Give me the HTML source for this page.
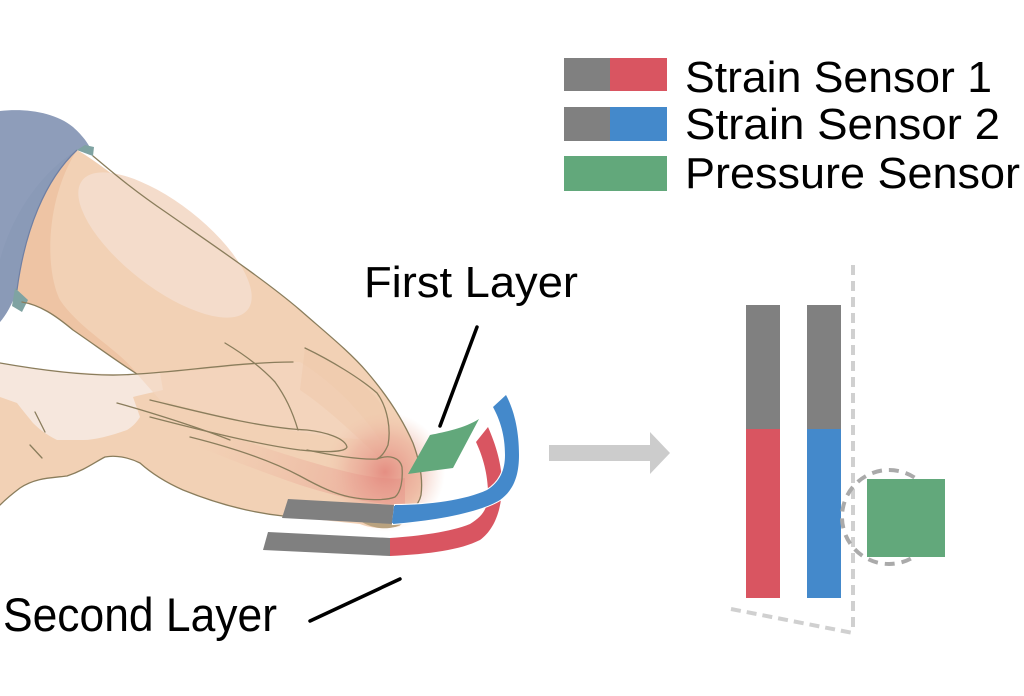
<!DOCTYPE html>
<html><head><meta charset="utf-8"><style>
html,body{margin:0;padding:0;background:#fff;}
svg{display:block;}
text{font-family:"Liberation Sans",sans-serif;fill:#000;}
</style></head><body>
<svg width="1024" height="696" viewBox="0 0 1024 696" xmlns="http://www.w3.org/2000/svg">
<defs>
<radialGradient id="rt" cx="385" cy="472" r="60" gradientUnits="userSpaceOnUse">
<stop offset="0" stop-color="#e3877d" stop-opacity="0.9"/>
<stop offset="0.6" stop-color="#eaa595" stop-opacity="0.5"/>
<stop offset="1" stop-color="#f0c0aa" stop-opacity="0"/>
</radialGradient>
<linearGradient id="fg" x1="200" y1="430" x2="390" y2="490" gradientUnits="userSpaceOnUse">
<stop offset="0" stop-color="#eeb9a2" stop-opacity="0"/>
<stop offset="1" stop-color="#e79d8f" stop-opacity="0.7"/>
</linearGradient>
</defs>

<!-- hand silhouette -->
<path d="M77,150 C95,160 130,188 167,213 C210,243 265,280 300,310 C325,332 350,352 367,372 C385,393 402,418 413,443 C420,462 423,480 421,495 C419,505 412,510 405,513 L400,526 C385,530 370,528 360,524 L283,516 C255,513 220,505 183,490 C165,482 150,472 140,463 C128,457 115,455 105,457 C95,462 85,470 67,476 C50,478 35,478 20,488 C12,494 5,500 0,505 L0,363 C40,370 95,378 137,374 C115,360 95,345 73,330 C55,315 35,300 15,302 C14,260 25,200 77,150 Z" fill="#f2d1b5"/>
<!-- darker band upper arm -->
<path d="M77,150 C40,185 20,240 15,302 C35,300 55,315 73,330 C95,345 115,360 137,374 C120,350 80,330 60,300 C45,270 45,200 77,150 Z" fill="#eec4a4"/>
<!-- highlight -->
<ellipse cx="165" cy="245" rx="105" ry="42" transform="rotate(38 165 245)" fill="#f4dccb"/>
<!-- whitish patch lower left -->
<path d="M0,363 C50,371 110,377 160,373 L163,390 C150,393 140,395 133,397 L140,417 C135,425 130,428 127,430 C110,436 95,440 83,440 L57,440 C45,434 38,428 33,423 C25,413 20,407 17,403 L0,397 Z" fill="#f6e7dd"/>
<!-- forearm shading -->
<path d="M137,374 C200,372 260,362 300,362 C330,380 360,410 380,440 C330,440 250,425 160,400 Z" fill="#f3d6bf" opacity="0.7"/>
<!-- knuckle warm tone -->
<path d="M305,348 C340,365 370,385 385,410 C392,430 390,450 380,458 C360,440 330,410 300,390 Z" fill="#efc3a2" opacity="0.35"/>
<!-- pink finger band -->
<path d="M170,415 C240,440 300,460 340,470 C370,478 395,480 405,478 L405,505 C380,505 340,498 300,485 C250,468 200,448 160,430 Z" fill="url(#fg)"/>
<circle cx="385" cy="472" r="60" fill="url(#rt)"/>
<!-- dark bump under strip -->
<path d="M362,522 C375,530 392,530 402,524 L400,518 L362,518 Z" fill="#b9a27f"/>

<!-- sleeve -->
<path d="M0,111 C25,108 55,112 73,127 C83,136 91,146 93,156 L77,150 C45,180 25,230 17,290 C12,305 6,315 0,322 Z" fill="#8e9dba"/>
<path d="M77,150 C45,180 25,230 17,290 C12,305 6,315 0,322 L0,260 C8,230 30,180 77,150 Z" fill="#8798b5" opacity="0.6"/>
<path d="M77,150 L93,156 L94,147 L85,145 Z" fill="#7fa3a2"/>
<path d="M15,288 L28,300 L22,312 L12,306 Z" fill="#7fa3a2"/>
<path d="M77,150 C45,180 25,230 17,290" fill="none" stroke="#6f7fa3" stroke-width="1.2"/>

<!-- outlines -->
<g fill="none" stroke="#8a7d5c" stroke-width="1.3" stroke-linecap="round" stroke-linejoin="round">
<path d="M93,156 C110,170 130,188 167,213 C210,243 265,280 300,310 C325,332 350,352 367,372 C385,393 402,418 413,443 C420,462 423,480 421,495 C419,505 412,510 405,513"/>
<path d="M283,516 C255,513 220,505 183,490 C165,482 150,472 140,463 C128,457 115,455 105,457 C95,462 85,470 67,476 C50,478 35,478 20,488 C12,494 5,500 0,505"/>
<path d="M0,363 C40,370 95,378 137,374 C180,372 240,362 293,362"/>
<path d="M22,302 C40,305 55,315 73,330 C95,345 115,360 137,374"/>
<path d="M225,343 C245,355 262,368 275,382 C285,396 292,410 298,430"/>
<path d="M150,400 C200,412 260,428 307,430 C325,432 345,438 347,447 C345,453 320,452 300,450 C260,445 200,430 150,417"/>
<path d="M305,348 C330,360 360,378 377,393 C388,408 391,430 388,445 C385,452 381,457 377,459 C360,460 330,455 307,450"/>
<path d="M377,459 C390,454 400,458 402,467 C403,480 401,492 395,497 C385,501 365,500 350,497 C335,494 320,487 300,476 C270,460 230,447 190,437"/>
<path d="M117,403 C150,412 200,428 230,440"/>
<path d="M35,412 L45,432"/>
<path d="M30,445 L42,458"/>
</g>

<!-- strips: red (lower) -->
<path d="M268,532 L390,538 L390,556 L263,550 Z" fill="#808080"/>
<path d="M390,538 C420,536 450,532 470,524 C485,515 489,505 488,490 C487,470 482,455 476,442 L488,427 C496,445 502,465 502,485 C502,510 494,530 480,540 C460,550 430,554 390,556 Z" fill="#d95561"/>
<!-- blue (upper) -->
<path d="M288,499 L395,505 L393,524 L282,518 Z" fill="#808080"/>
<path d="M395,505 C430,505 465,500 487,490 C500,482 505,470 505,455 C505,435 500,420 493,407 L506,395 C514,410 519,430 519,455 C519,475 514,490 500,500 C480,512 440,520 393,524 Z" fill="#4489cb" stroke="#fff" stroke-width="2" paint-order="stroke"/>
<path d="M395,506 L393,523" stroke="#4489cb" stroke-width="2"/>
<!-- green pad -->
<path d="M430,435 C445,432 465,428 479,419 L453,468 C438,470 422,472 408,474 Z" fill="#62a87b"/>

<!-- leader lines -->
<line x1="477" y1="327" x2="440" y2="426" stroke="#000" stroke-width="3.5" stroke-linecap="round"/>
<line x1="310" y1="621" x2="400" y2="579" stroke="#000" stroke-width="3.5" stroke-linecap="round"/>

<!-- labels -->
<text x="364" y="297" font-size="44" textLength="214" lengthAdjust="spacingAndGlyphs">First Layer</text>
<text x="3" y="631" font-size="47" textLength="274" lengthAdjust="spacingAndGlyphs">Second Layer</text>

<!-- gray arrow -->
<polygon points="549,445 650,445 650,432 670,453 650,474 650,461 549,461" fill="#cccccc"/>

<!-- right panel -->
<rect x="746" y="305" width="34" height="124" fill="#808080"/>
<rect x="746" y="429" width="34" height="169" fill="#d95561"/>
<rect x="807" y="305" width="34" height="124" fill="#808080"/>
<rect x="807" y="429" width="34" height="169" fill="#4489cb"/>
<line x1="853" y1="265" x2="853" y2="633" stroke="#d0d0d0" stroke-width="4" stroke-dasharray="10 6"/>
<line x1="731" y1="609" x2="853" y2="633" stroke="#d0d0d0" stroke-width="4" stroke-dasharray="10 6"/>
<circle cx="889" cy="517" r="47" fill="none" stroke="#aaaaaa" stroke-width="4" stroke-dasharray="10 7"/>
<rect x="867" y="479" width="78" height="78" fill="#62a87b"/>

<!-- legend -->
<rect x="564" y="58" width="46" height="33" fill="#808080"/>
<rect x="610" y="58" width="57" height="33" fill="#d95561"/>
<rect x="564" y="107" width="46" height="34" fill="#808080"/>
<rect x="610" y="107" width="57" height="34" fill="#4489cb"/>
<rect x="564" y="156" width="103" height="35" fill="#62a87b"/>
<text x="685" y="92" font-size="44" textLength="307" lengthAdjust="spacingAndGlyphs">Strain Sensor 1</text>
<text x="685" y="139" font-size="44" textLength="315" lengthAdjust="spacingAndGlyphs">Strain Sensor 2</text>
<text x="685" y="188" font-size="44" textLength="335" lengthAdjust="spacingAndGlyphs">Pressure Sensor</text>
</svg>
</body></html>
